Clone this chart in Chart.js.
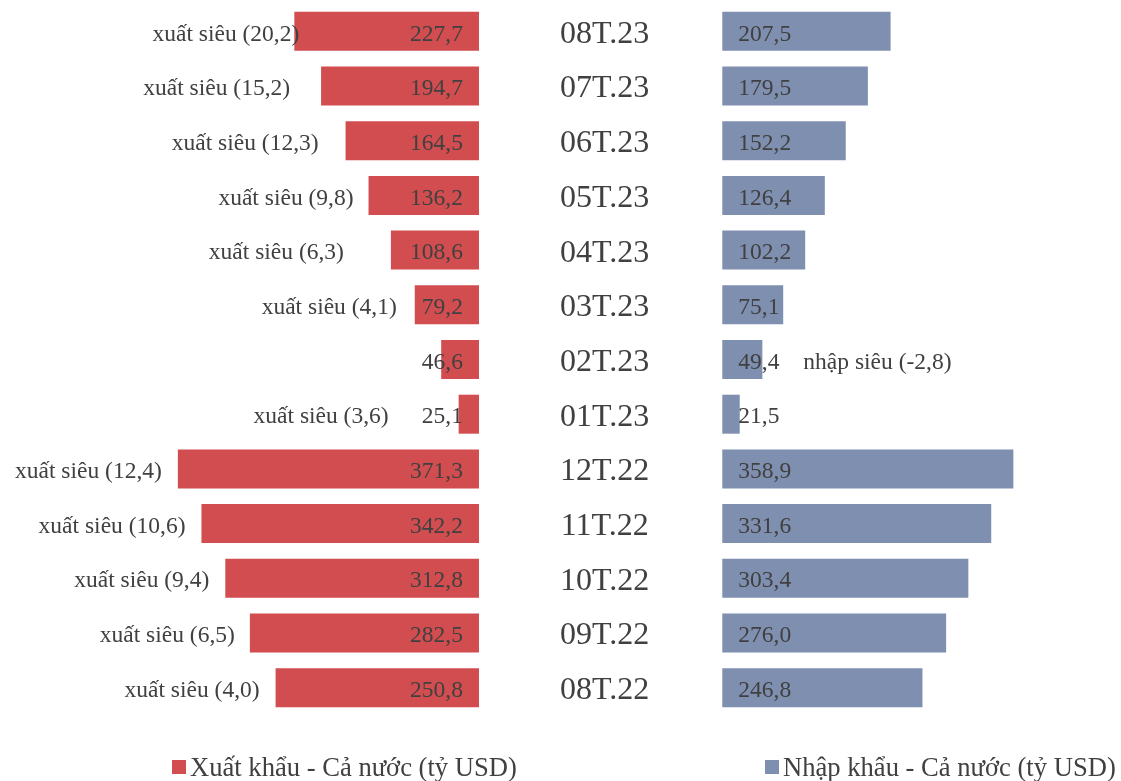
<!DOCTYPE html>
<html>
<head>
<meta charset="utf-8">
<script src="https://cdn.jsdelivr.net/npm/chart.js@4.4.1/dist/chart.umd.min.js"></script>
<style>
html,body{margin:0;padding:0;background:#fff;}
#wrap{position:relative;width:1121px;height:781px;}
</style>
</head>
<body>
<div id="wrap"><canvas id="c"></canvas></div>
<script>
// ---- data (top to bottom) ----
const categories = ['08T.23','07T.23','06T.23','05T.23','04T.23','03T.23','02T.23','01T.23','12T.22','11T.22','10T.22','09T.22','08T.22'];
const exportsVN = [227.7,194.7,164.5,136.2,108.6,79.2,46.6,25.1,371.3,342.2,312.8,282.5,250.8];
const importsVN = [207.5,179.5,152.2,126.4,102.2,75.1,49.4,21.5,358.9,331.6,303.4,276.0,246.8];
const tradeBalance = [20.2,15.2,12.3,9.8,6.3,4.1,-2.8,3.6,12.4,10.6,9.4,6.5,4.0];
const seriesNames = ['Xuất khẩu - Cả nước (tỷ USD)','Nhập khẩu - Cả nước (tỷ USD)'];

// ---- layout / style ----
const GAP = 150;               // half of the empty centre band, in value units
const RED = '#D24D4F', BLUE = '#7F8FB0', TXT = '#404040';
const FONT = '"Liberation Serif", "Times New Roman", serif';
const balanceNudge = [21,-15,-11,1,-31,-2,0,-54,0,0,0,1,0]; // px shift of balance label

const fmt = v => v.toFixed(1).replace('.', ',');

const labelsPlugin = {
  id: 'labelsPlugin',
  afterDatasetsDraw(chart) {
    const ctx = chart.ctx, xs = chart.scales.x, ys = chart.scales.y;
    const redBase = xs.getPixelForValue(-GAP), blueBase = xs.getPixelForValue(GAP);
    const mid = xs.getPixelForValue(0);
    ctx.save();
    ctx.fillStyle = TXT;
    ctx.textBaseline = 'middle';
    categories.forEach((cat, i) => {
      const y = ys.getPixelForValue(i) + 3;
      ctx.font = '32px ' + FONT;
      ctx.textAlign = 'center';
      ctx.fillText(cat, mid + 4, y);
      ctx.font = '23.5px ' + FONT;
      ctx.textAlign = 'right';
      ctx.fillText(fmt(exportsVN[i]), redBase - 16, y);
      ctx.textAlign = 'left';
      ctx.fillText(fmt(importsVN[i]), blueBase + 16, y);
      const b = tradeBalance[i];
      if (b >= 0) {
        const left = xs.getPixelForValue(-GAP - exportsVN[i]);
        ctx.textAlign = 'right';
        ctx.fillText('xuất siêu (' + fmt(b) + ')', left - 16 + balanceNudge[i], y);
      } else {
        const right = xs.getPixelForValue(GAP + importsVN[i]);
        ctx.textAlign = 'left';
        ctx.fillText('nhập siêu (' + fmt(b) + ')', right + 41, y);
      }
    });
    // legend
    const ly = 767;
    const items = [[172, RED, seriesNames[0]], [765, BLUE, seriesNames[1]]];
    ctx.font = '26.6px ' + FONT;
    ctx.textAlign = 'left';
    items.forEach(([x, col, name]) => {
      ctx.fillStyle = col;
      ctx.fillRect(x, ly - 7, 14, 14);
      ctx.fillStyle = TXT;
      ctx.fillText(name, x + 18, ly + 2);
    });
    ctx.restore();
  }
};

new Chart(document.getElementById('c'), {
  type: 'bar',
  data: {
    labels: categories,
    datasets: [
      { label: seriesNames[0], data: exportsVN.map(v => [-GAP - v, -GAP]), backgroundColor: RED, borderWidth: 0 },
      { label: seriesNames[1], data: importsVN.map(v => [GAP, GAP + v]), backgroundColor: BLUE, borderWidth: 0 }
    ]
  },
  options: {
    indexAxis: 'y',
    responsive: true,
    maintainAspectRatio: false,
    animation: false,
    layout: { padding: { left: 0, right: 0, top: 4, bottom: 66 } },
    datasets: { bar: { grouped: false, categoryPercentage: 1, barPercentage: 0.713 } },
    plugins: { legend: { display: false }, tooltip: { enabled: false } },
    scales: {
      x: { display: false, min: -740.6, max: 641.6 },
      y: { display: false }
    }
  },
  plugins: [labelsPlugin]
});
</script>
</body>
</html>
